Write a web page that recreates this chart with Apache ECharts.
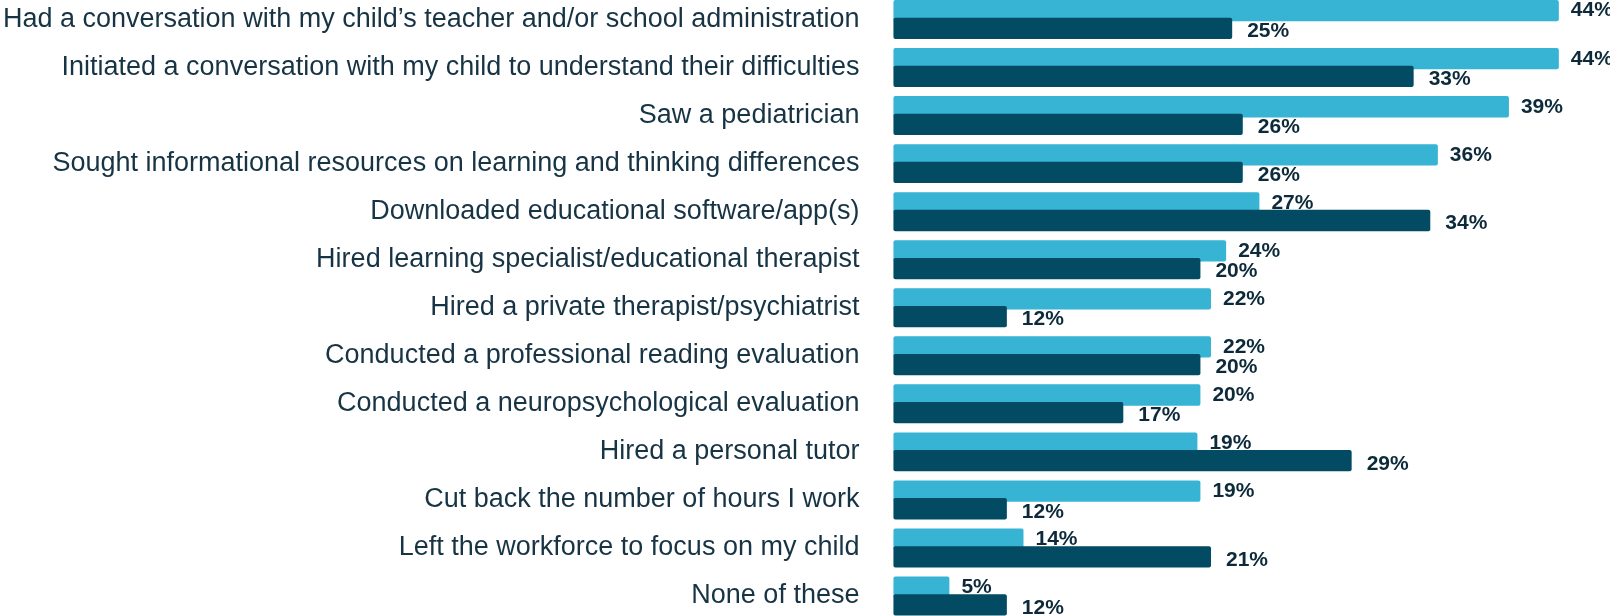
<!DOCTYPE html>
<html>
<head>
<meta charset="utf-8">
<title>Actions taken by parents</title>
<script src="https://cdn.jsdelivr.net/npm/echarts@6/dist/echarts.min.js"></script>
<style>
  html, body { margin: 0; padding: 0; background: #fff; overflow: hidden; }
  /* the first row is cut off at the top edge in the original */
  #chart { position: absolute; left: 0; top: -5px; width: 1610px; height: 630px; }
</style>
</head>
<body>
<div id="chart"></div>
<script>
// 类别（从上到下）
const categories = [
    'Had a conversation with my child\u2019s teacher and/or school administration',
    'Initiated a conversation with my child to understand their difficulties',
    'Saw a pediatrician',
    'Sought informational resources on learning and thinking differences',
    'Downloaded educational software/app(s)',
    'Hired learning specialist/educational therapist',
    'Hired a private therapist/psychiatrist',
    'Conducted a professional reading evaluation',
    'Conducted a neuropsychological evaluation',
    'Hired a personal tutor',
    'Cut back the number of hours I work',
    'Left the workforce to focus on my child',
    'None of these'
];

// 浅色系列：条长和标注文字
const lightBars = [44.0, 44.0, 40.7, 36.0, 24.2, 22.0, 21.0, 21.0, 20.3, 20.1, 20.3, 8.6, 3.7];
const lightLabels = ['44%', '44%', '39%', '36%', '27%', '24%', '22%', '22%', '20%', '19%', '19%', '14%', '5%'];

// 深色系列
const darkBars = [22.4, 34.4, 23.1, 23.1, 35.5, 20.3, 7.5, 20.3, 15.2, 30.3, 7.5, 21.0, 7.5];
const darkLabels = ['25%', '33%', '26%', '26%', '34%', '20%', '12%', '20%', '17%', '29%', '12%', '21%', '12%'];

const chart = echarts.init(document.getElementById('chart'));

function makeSeries(name, bars, labels, color, distance, dy) {
    return {
        name: name,
        type: 'bar',
        data: bars,
        barWidth: 21.3,
        barGap: '-17%',
        itemStyle: { color: color, borderRadius: 2 },
        label: {
            show: true,
            position: 'right',
            distance: distance,
            offset: [0, dy],
            formatter: p => labels[p.dataIndex],
            color: '#0d2a3a',
            fontFamily: 'Liberation Sans, Arial, sans-serif',
            fontWeight: 'bold',
            fontSize: 21
        }
    };
}

chart.setOption({
    backgroundColor: '#fff',
    animation: false,
    grid: {
        left: 891.7,
        top: 0.5,
        width: 712.5,
        height: 624.5
    },
    xAxis: {
        type: 'value',
        min: 0,
        max: 47,
        show: false
    },
    yAxis: {
        type: 'category',
        data: categories,
        inverse: true,
        axisLine: { show: false },
        axisTick: { show: false },
        splitLine: { show: false },
        axisLabel: {
            margin: 34,
            color: '#173445',
            fontFamily: 'Liberation Sans, Arial, sans-serif',
            fontSize: 27
        }
    },
    series: [
        makeSeries('Light', lightBars, lightLabels, '#37b3d3', 12, 0),
        makeSeries('Dark', darkBars, darkLabels, '#034a63', 15, 3)
    ]
});
</script>
</body>
</html>
